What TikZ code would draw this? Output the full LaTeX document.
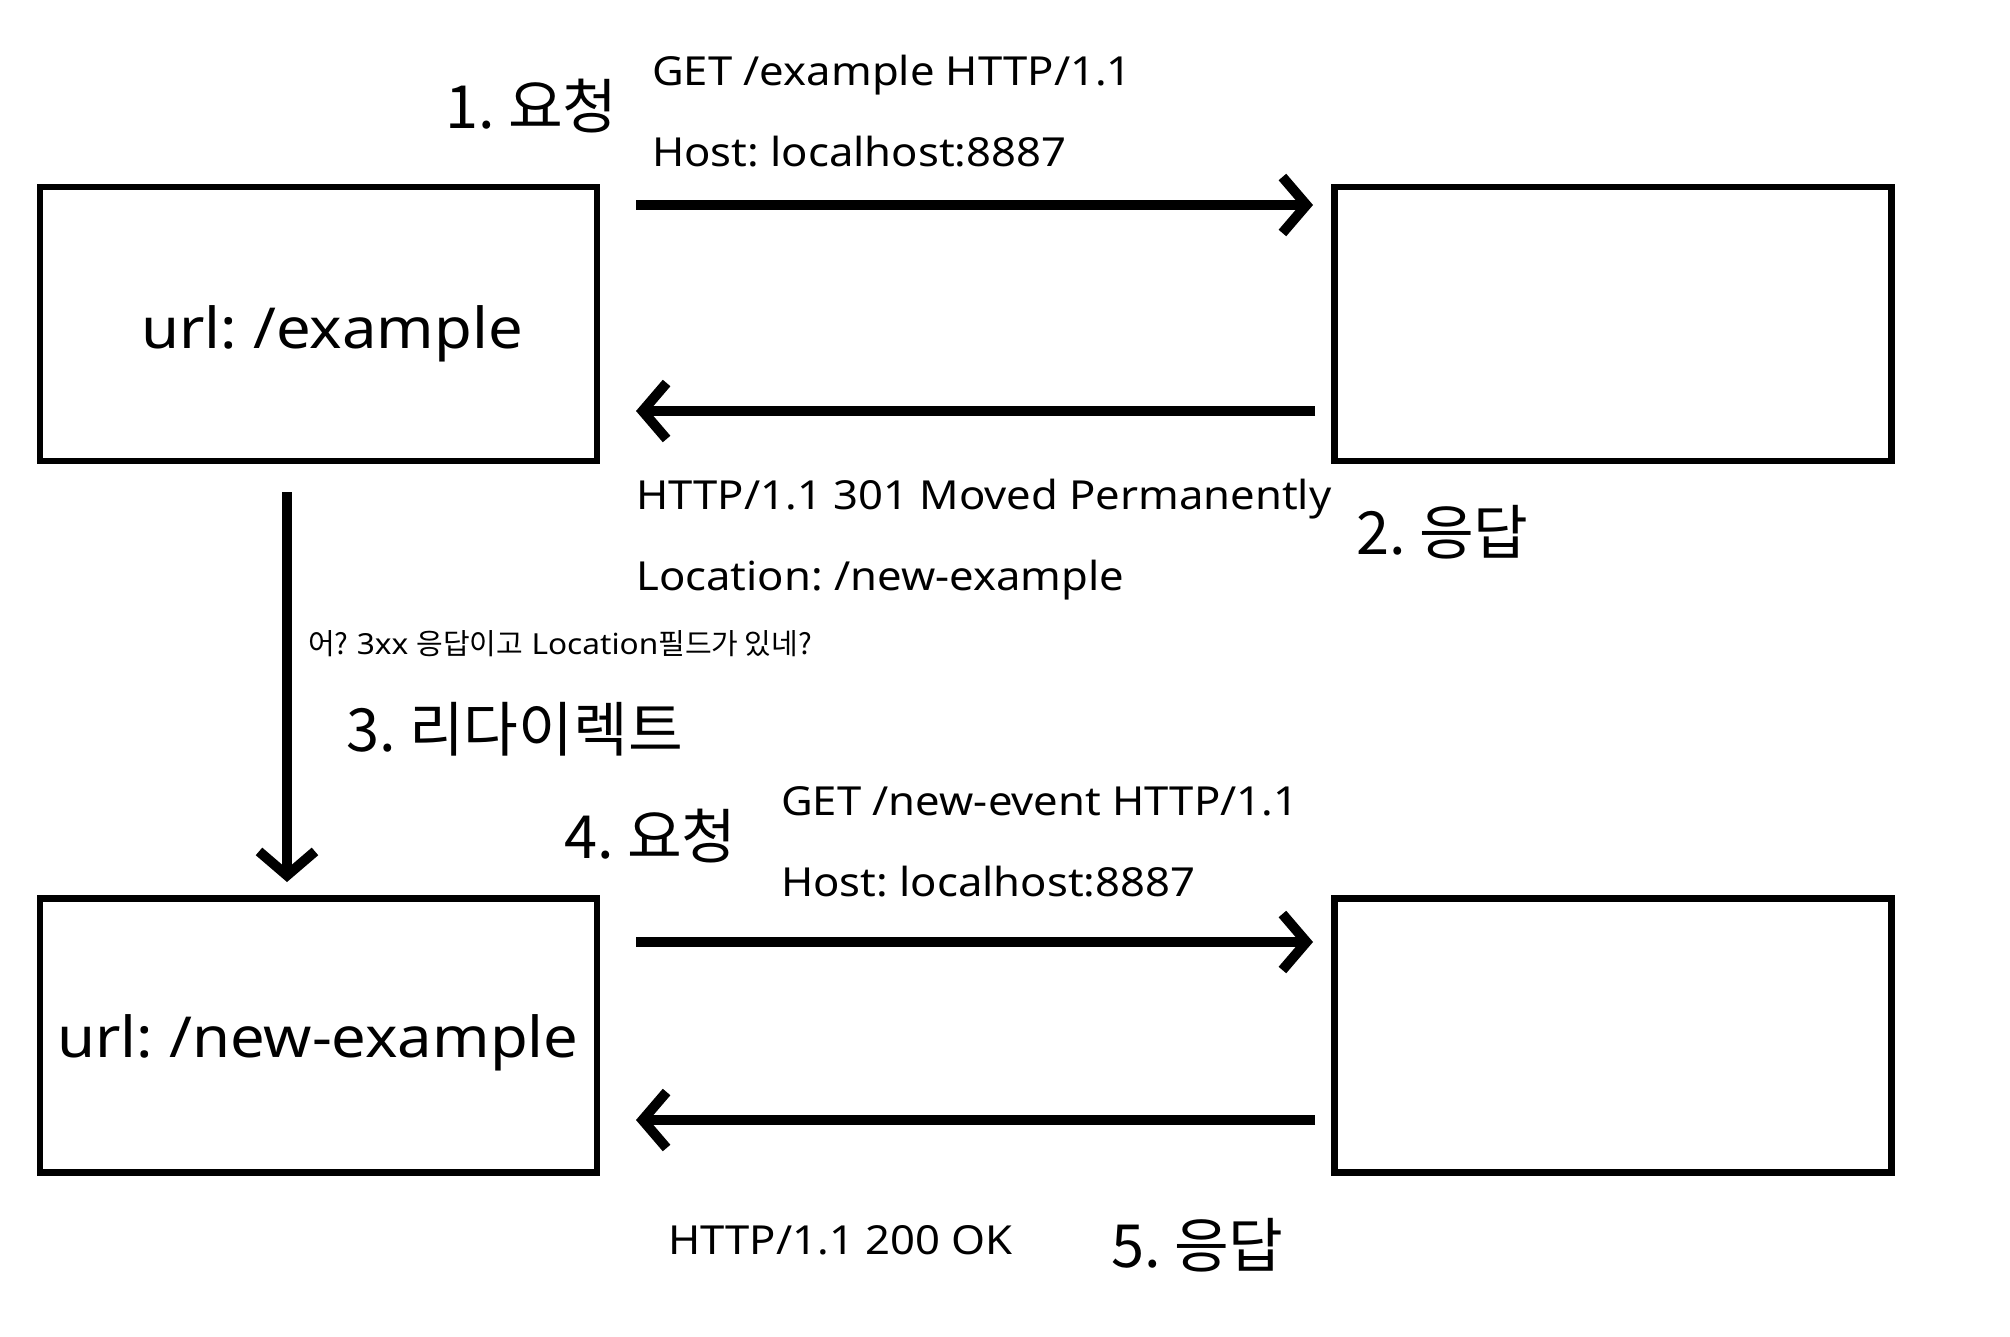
\documentclass[tikz,border=0pt]{standalone}
\usepackage{fontspec}
\setmainfont{Noto Sans}[FakeStretch=1.09]
\newfontfamily\kr{Noto Sans CJK KR}
\usetikzlibrary{arrows.meta}
\frenchspacing
\begin{document}
\begin{tikzpicture}[x=1pt,y=-1pt,
  box/.style={draw, line width=6.5pt, minimum width=557pt, minimum height=274pt, inner sep=0pt},
  arr/.style={line width=10pt, -{Straight Barb[length=24pt,width=56pt,line cap=butt,line join=miter]}},
  lbl/.style={anchor=base west, inner sep=0pt},
  big/.style={lbl, font=\kr\fontsize{59.5pt}{68pt}\selectfont},
  mid/.style={lbl, font=\fontsize{40pt}{48pt}\selectfont},
  url/.style={lbl, font=\fontsize{56.5pt}{64pt}\selectfont},
  small/.style={lbl, font=\fontsize{29pt}{34pt}\selectfont}]
\useasboundingbox[fill=white] (0,0) rectangle (2010,1336);

% boxes
\node[box] (b1) at (318.5,324) {};
\node[box] (b2) at (1613,324) {};
\node[box] (b3) at (318.5,1035.5) {};
\node[box] (b4) at (1613,1035.5) {};

% box texts
\node[url] (u1) at (141,348) {url: /example};
\node[url] (u2) at (57,1057) {url: /new-example};

% arrow end points
\coordinate (a1s) at (636,205);
\coordinate (a1e) at (1313,205);
\coordinate (a2s) at (1315,411);
\coordinate (a2e) at (636,411);
\coordinate (a3s) at (636,942);
\coordinate (a3e) at (1313,942);
\coordinate (a4s) at (1315,1120);
\coordinate (a4e) at (636,1120);
\coordinate (vs) at (287,492);
\coordinate (ve) at (287,882);

\draw[arr] (a1s) -- (a1e);
\draw[arr] (a2s) -- (a2e);
\draw[arr] (a3s) -- (a3e);
\draw[arr] (a4s) -- (a4e);
\draw[arr] (vs) -- (ve);

% labels
\node[big] (s1) at (445,128) {1. 요청};
\node[mid] (g1) at (652,85) {GET /example HTTP/1.1};
\node[mid] (h1) at (652,166) {Host: localhost:8887};
\node[mid] (r1) at (636,509) {HTTP/1.1 301 Moved Permanently};
\node[mid] (l1) at (636,590) {Location: /new-example};
\node[big] (s2) at (1356,554) {2. 응답};
\node[small] (q) at (308,654) {{\kr 어?} 3xx {\kr 응답이고} Location{\kr 필드가 있네?}};
\node[big] (s3) at (346,751) {3. 리다이렉트};
\node[big] (s4) at (564,858) {4. 요청};
\node[mid] (g2) at (781,815) {GET /new-event HTTP/1.1};
\node[mid] (h2) at (781,896) {Host: localhost:8887};
\node[mid] (ok) at (668,1254) {HTTP/1.1 200 OK};
\node[big] (s5) at (1111,1267) {5. 응답};
\end{tikzpicture}
\end{document}
